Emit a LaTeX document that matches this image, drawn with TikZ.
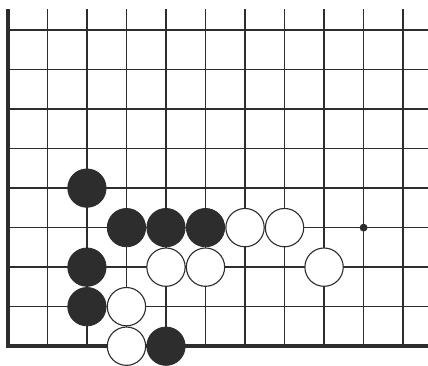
\documentclass[tikz,border=0pt]{standalone}
\usepackage{tikz}
\usetikzlibrary{positioning}
\definecolor{inkgray}{RGB}{45,45,45}

\begin{document}
\begin{tikzpicture}[
  gridline/.style={line width=1pt, color=inkgray},
  edgeline/.style={line width=2.9pt, color=inkgray},
  blackstone/.style={circle, fill=inkgray, draw=inkgray, line width=0.6pt,
                     minimum size=0.97cm, inner sep=0pt},
  whitestone/.style={circle, fill=white, draw=inkgray, line width=0.8pt,
                     minimum size=0.97cm, inner sep=0pt},
  hoshi/.style={circle, fill=inkgray, minimum size=0.2cm, inner sep=0pt}
]
  \useasboundingbox (-0.2,-0.48) rectangle (10.63,8.76);

  % board lines
  \foreach \x in {1,...,10}
    \draw[gridline] (\x,0) -- (\x,8.53);
  \foreach \y in {1,...,8}
    \draw[gridline] (0,\y) -- (10.63,\y);
  \draw[edgeline] (0,8.53) -- (0,0) -- (10.63,0);

  \node[hoshi] (star) at (9,3) {};

  % black
  \node[blackstone] (b1) at (2,4) {};
  \node[blackstone] (b2) at (3,3) {};
  \node[blackstone] (b3) at (4,3) {};
  \node[blackstone] (b4) at (5,3) {};
  \node[blackstone] (b5) at (2,2) {};
  \node[blackstone] (b6) at (2,1) {};
  \node[blackstone] (b7) at (4,0) {};

  % white
  \node[whitestone] (w1) at (6,3) {};
  \node[whitestone] (w2) at (7,3) {};
  \node[whitestone] (w3) at (4,2) {};
  \node[whitestone] (w4) at (5,2) {};
  \node[whitestone] (w5) at (8,2) {};
  \node[whitestone] (w6) at (3,1) {};
  \node[whitestone] (w7) at (3,0) {};
\end{tikzpicture}
\end{document}
